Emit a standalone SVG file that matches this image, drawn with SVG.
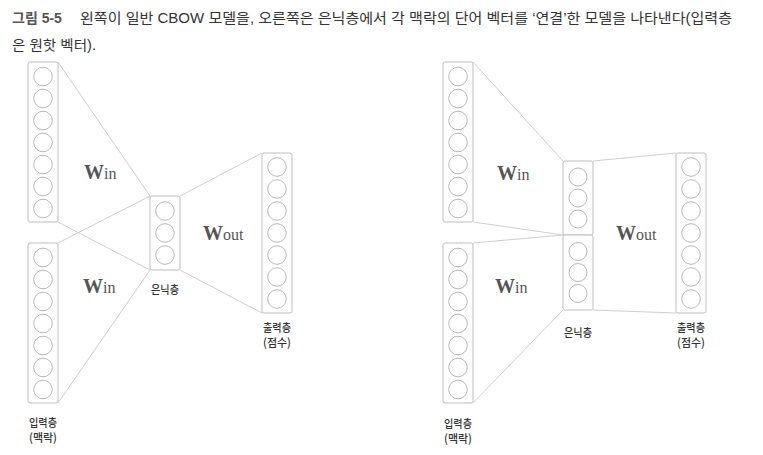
<svg xmlns="http://www.w3.org/2000/svg" xmlns:xlink="http://www.w3.org/1999/xlink" width="763" height="455" viewBox="0 0 763 455">
<style>
.bg{fill:#ffffff}
.box{fill:#ffffff;stroke:#bdbdbd;stroke-width:1}
.c{fill:#ffffff;stroke:#b0b0b0;stroke-width:0.9}
.ln{stroke:#c2c2c2;stroke-width:0.8;fill:none}
.cap{font-family:"Liberation Sans","Noto Sans CJK KR",sans-serif;font-size:14px;fill:#333333}
.capb{font-weight:bold;fill:#555555}
.lbl{font-family:"Noto Sans CJK KR","Noto Sans",sans-serif;font-size:11.5px;font-weight:500;fill:#333333;text-anchor:middle}
.w{font-family:"Liberation Serif",serif;fill:#555555}
.W{font-weight:bold;font-size:20px}
.sub{font-size:16px}
</style>
<defs>
<g id="col7">
<circle class="c" cx="0" cy="0" r="9.3"/>
<circle class="c" cx="0" cy="22" r="9.3"/>
<circle class="c" cx="0" cy="44" r="9.3"/>
<circle class="c" cx="0" cy="66" r="9.3"/>
<circle class="c" cx="0" cy="88" r="9.3"/>
<circle class="c" cx="0" cy="110" r="9.3"/>
<circle class="c" cx="0" cy="132" r="9.3"/>
</g>
<g id="col3">
<circle class="c" cx="0" cy="0" r="9.3"/>
<circle class="c" cx="0" cy="22" r="9.3"/>
<circle class="c" cx="0" cy="44" r="9.3"/>
</g>
<g id="col3b">
<circle class="c" cx="0" cy="0" r="9"/>
<circle class="c" cx="0" cy="21" r="9"/>
<circle class="c" cx="0" cy="42" r="9"/>
</g>
</defs>
<rect class="bg" x="0" y="0" width="763" height="455"/>

<g id="caption">
<text class="cap" x="12" y="23"><tspan class="capb">그림 5-5</tspan></text>
<text class="cap" x="80" y="23" textLength="652" lengthAdjust="spacingAndGlyphs">왼쪽이 일반 CBOW 모델을, 오른쪽은 은닉층에서 각 맥락의 단어 벡터를 ‘연결’한 모델을 나타낸다(입력층</text>
<text class="cap" x="12" y="50" textLength="84" lengthAdjust="spacingAndGlyphs">은 원핫 벡터).</text>
</g>

<g id="connectors">
<!-- left diagram -->
<line class="ln" x1="58" y1="62" x2="150" y2="196"/>
<line class="ln" x1="58" y1="222" x2="150" y2="270"/>
<line class="ln" x1="58" y1="243" x2="150" y2="196"/>
<line class="ln" x1="58" y1="403" x2="150" y2="270"/>
<line class="ln" x1="180" y1="196" x2="262" y2="153"/>
<line class="ln" x1="180" y1="270" x2="262" y2="313"/>
<!-- right diagram -->
<line class="ln" x1="473" y1="62" x2="563" y2="161"/>
<line class="ln" x1="473" y1="222" x2="563" y2="235"/>
<line class="ln" x1="473" y1="243" x2="563" y2="235"/>
<line class="ln" x1="473" y1="403" x2="563" y2="310"/>
<line class="ln" x1="593" y1="161" x2="676" y2="153"/>
<line class="ln" x1="593" y1="310" x2="676" y2="313"/>
</g>

<!-- LEFT: CBOW -->
<g id="L_in1">
<rect class="box" x="28" y="62" width="30" height="160" rx="2"/>
<use xlink:href="#col7" href="#col7" x="43" y="76.5"/>
</g>
<g id="L_in2">
<rect class="box" x="28" y="243" width="30" height="160" rx="2"/>
<use xlink:href="#col7" href="#col7" x="43" y="257.5"/>
<text class="lbl" x="43" y="427" textLength="28" lengthAdjust="spacingAndGlyphs">입력층</text>
<text class="lbl" x="43" y="442" textLength="28" lengthAdjust="spacingAndGlyphs">(맥락)</text>
</g>
<g id="L_hidden">
<rect class="box" x="150" y="196" width="30" height="74" rx="2"/>
<use xlink:href="#col3" href="#col3" x="165" y="211"/>
<text class="lbl" x="165" y="294" textLength="28" lengthAdjust="spacingAndGlyphs">은닉층</text>
</g>
<g id="L_out">
<rect class="box" x="262" y="153" width="30" height="160" rx="2"/>
<use xlink:href="#col7" href="#col7" x="277" y="167"/>
<text class="lbl" x="277" y="332" textLength="28" lengthAdjust="spacingAndGlyphs">출력층</text>
<text class="lbl" x="277" y="347" textLength="28" lengthAdjust="spacingAndGlyphs">(점수)</text>
</g>
<g id="L_weights">
<text class="w" x="84" y="179"><tspan class="W">W</tspan><tspan class="sub">in</tspan></text>
<text class="w" x="83" y="293"><tspan class="W">W</tspan><tspan class="sub">in</tspan></text>
<text class="w" x="203" y="240"><tspan class="W">W</tspan><tspan class="sub">out</tspan></text>
</g>

<!-- RIGHT: concatenated -->
<g id="R_in1">
<rect class="box" x="443" y="62" width="30" height="160" rx="2"/>
<use xlink:href="#col7" href="#col7" x="458" y="76.5"/>
</g>
<g id="R_in2">
<rect class="box" x="443" y="243" width="30" height="160" rx="2"/>
<use xlink:href="#col7" href="#col7" x="458" y="257.5"/>
<text class="lbl" x="458" y="428" textLength="28" lengthAdjust="spacingAndGlyphs">입력층</text>
<text class="lbl" x="458" y="443" textLength="28" lengthAdjust="spacingAndGlyphs">(맥락)</text>
</g>
<g id="R_hidden">
<rect class="box" x="563" y="161" width="30" height="74" rx="2"/>
<use xlink:href="#col3b" href="#col3b" x="578" y="177"/>
<rect class="box" x="563" y="235" width="30" height="75" rx="2"/>
<use xlink:href="#col3b" href="#col3b" x="578" y="251.5"/>
<text class="lbl" x="578" y="337" textLength="28" lengthAdjust="spacingAndGlyphs">은닉층</text>
</g>
<g id="R_out">
<rect class="box" x="676" y="153" width="30" height="160" rx="2"/>
<use xlink:href="#col7" href="#col7" x="691" y="167"/>
<text class="lbl" x="691" y="332" textLength="28" lengthAdjust="spacingAndGlyphs">출력층</text>
<text class="lbl" x="691" y="347" textLength="28" lengthAdjust="spacingAndGlyphs">(점수)</text>
</g>
<g id="R_weights">
<text class="w" x="497" y="180"><tspan class="W">W</tspan><tspan class="sub">in</tspan></text>
<text class="w" x="495" y="293"><tspan class="W">W</tspan><tspan class="sub">in</tspan></text>
<text class="w" x="616" y="240"><tspan class="W">W</tspan><tspan class="sub">out</tspan></text>
</g>
</svg>
